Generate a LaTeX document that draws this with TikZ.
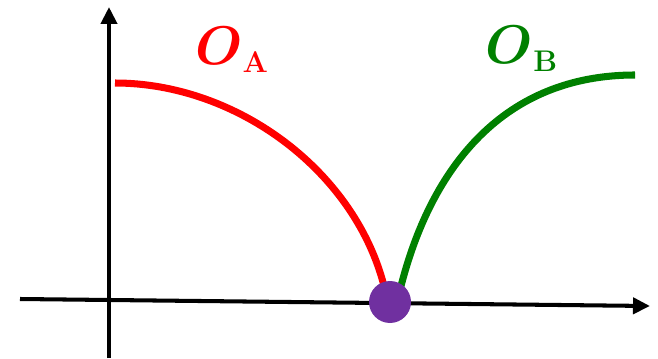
\RequirePackage{fix-cm}
\documentclass[tikz,border=0pt]{standalone}
\usepackage{amsmath,amssymb}
\usepackage{tikz}
\usetikzlibrary{arrows.meta,positioning}
\definecolor{CurveRed}{HTML}{FF0000}
\definecolor{CurveGreen}{HTML}{008000}
\definecolor{DotPurple}{HTML}{7030A0}
\newcommand{\olabel}[4]{\node[text=#4, inner sep=0pt, font=\fontsize{31}{36}\selectfont] (#1) at #2
  {$\boldsymbol{O}_{\mbox{\fontsize{17}{20}\selectfont\bfseries #3}}$};}

\begin{document}
\begin{tikzpicture}[
  x=0.02cm, y=-0.02cm,
  axis/.style={-{Triangle[length=3.4mm,width=3.2mm]}, line width=2.3pt, black},
  branch/.style={line width=4pt},
]
\useasboundingbox (0,0) rectangle (658,358);

%% ── Axes ─────────────────────────────────────────────────────────────────
\coordinate (xstart) at (20,299);
\coordinate (xend)   at (650,306);
\coordinate (ystart) at (109,358);
\coordinate (yend)   at (109,7);

\draw[axis] (xstart) -- (xend);
\draw[axis] (ystart) -- (yend);

%% ── Branches ─────────────────────────────────────────────────────────────
\coordinate (A0) at (115,83);
\coordinate (A1) at (385,290);
\coordinate (B0) at (400,290);
\coordinate (B1) at (635,75);

\draw[branch, CurveRed]   (A0) .. controls (237,83) and (357,172) .. (A1);
\draw[branch, CurveGreen] (B0) .. controls (431,165) and (505,75) .. (B1);

%% ── Meeting point ────────────────────────────────────────────────────────
\node[circle, fill=DotPurple, minimum size=0.84cm, inner sep=0pt] (meet) at (390,302) {};

%% ── Labels ───────────────────────────────────────────────────────────────
\olabel{OA}{(232,50)}{A}{CurveRed}
\olabel{OB}{(522,49)}{B}{CurveGreen}

\end{tikzpicture}
\end{document}
